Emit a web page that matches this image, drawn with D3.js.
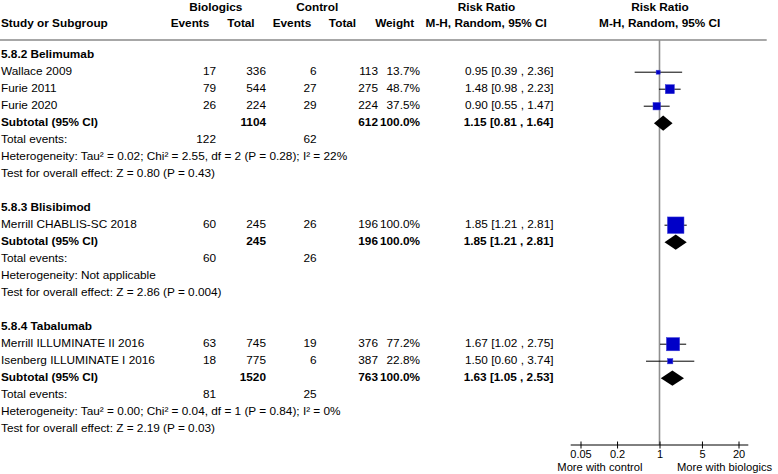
<!DOCTYPE html>
<html>
<head>
<meta charset="utf-8">
<script src="https://d3js.org/d3.v7.min.js"></script>
<style>
  body { margin: 0; background: #fff; }
  text { font-family: "Liberation Sans", Arial, Helvetica, sans-serif; font-size: 11.8px; fill: #000; }
</style>
</head>
<body>
<svg id="chart" width="778" height="474"></svg>
<script>
// ---- data ----
var groupNames = ["5.8.2 Belimumab", "5.8.3 Blisibimod", "5.8.4 Tabalumab"];
var studyNames = ["Wallace 2009", "Furie 2011", "Furie 2020", "Merrill CHABLIS-SC 2018",
  "Merrill ILLUMINATE II 2016", "Isenberg ILLUMINATE I 2016"];
var studyGroup = [0, 0, 0, 1, 2, 2];
var bioEvents = [17, 79, 26, 60, 63, 18];
var bioTotal = [336, 544, 224, 245, 745, 775];
var ctrlEvents = [6, 27, 29, 26, 19, 6];
var ctrlTotal = [113, 275, 224, 196, 376, 387];
var studyWeight = [13.7, 48.7, 37.5, 100.0, 77.2, 22.8];
var studyRR = [0.95, 1.48, 0.90, 1.85, 1.67, 1.50];
var studyLow = [0.39, 0.98, 0.55, 1.21, 1.02, 0.60];
var studyHigh = [2.36, 2.23, 1.47, 2.81, 2.75, 3.74];

var subBioTotal = [1104, 245, 1520];
var subCtrlTotal = [612, 196, 763];
var subRR = [1.15, 1.85, 1.63];
var subLow = [0.81, 1.21, 1.05];
var subHigh = [1.64, 2.81, 2.53];
var totBioEvents = [122, 60, 81];
var totCtrlEvents = [62, 26, 25];
var heterogeneity = [
  "Tau² = 0.02; Chi² = 2.55, df = 2 (P = 0.28); I² = 22%",
  "Not applicable",
  "Tau² = 0.00; Chi² = 0.04, df = 1 (P = 0.84); I² = 0%",
];
var overallEffect = ["Z = 0.80 (P = 0.43)", "Z = 2.86 (P = 0.004)", "Z = 2.19 (P = 0.03)"];
var axisTicks = [0.05, 0.2, 1, 5, 20];

// ---- layout ----
var svg = d3.select("#chart");
var col = { name: 1, bioEv: 216, bioTot: 266, ctrlEv: 316.5, ctrlTot: 378, weight: 420, rr: 553.5 };
var axisY = 445;
var f2 = d3.format(".2f");
var f1 = d3.format(".1f");

// build the list of table rows (one per line of text)
var rows = [];
groupNames.forEach((g, gi) => {
  if (gi > 0) rows.push({ type: "blank" });
  rows.push({ type: "group", g: gi });
  studyGroup.forEach((sg, i) => {
    if (sg == gi) rows.push({ type: "study", i: i });
  });
  rows.push({ type: "subtotal", g: gi });
  rows.push({ type: "events", g: gi });
  rows.push({ type: "het", g: gi });
  rows.push({ type: "test", g: gi });
});

var y = d3.scaleLinear().domain([0, 1]).range([55.2, 72.2]); // 17px per row
var x = d3.scaleLog().domain([0.05, 20]).range([580.5, 738.5]);
var boxSize = d3.scaleLinear().domain([0, 100]).range([2, 16.5]);

function addText(g, px, py, txt, anchor, bold) {
  return g.append("text")
    .attr("x", px)
    .attr("y", py)
    .attr("text-anchor", anchor || "start")
    .style("font-weight", bold ? "bold" : "normal")
    .text(txt);
}

// ---- header ----
var head = svg.append("g").attr("class", "header");
addText(head, 215.8, 10.5, "Biologics", "middle", true);
addText(head, 317.2, 10.5, "Control", "middle", true);
addText(head, 486.5, 10.5, "Risk Ratio", "middle", true);
addText(head, 660, 10.5, "Risk Ratio", "middle", true);
addText(head, col.name, 26.5, "Study or Subgroup", "start", true);
addText(head, 190, 26.5, "Events", "middle", true);
addText(head, 241, 26.5, "Total", "middle", true);
addText(head, 292, 26.5, "Events", "middle", true);
addText(head, 342.5, 26.5, "Total", "middle", true);
addText(head, 394.7, 26.5, "Weight", "middle", true);
addText(head, 486.2, 26.5, "M-H, Random, 95% CI", "middle", true);
addText(head, 659.7, 26.5, "M-H, Random, 95% CI", "middle", true);

head.append("line")
  .attr("x1", 0).attr("x2", 766.7)
  .attr("y1", 40).attr("y2", 40)
  .style("stroke", "#8a8a8a")
  .style("stroke-width", "1.6px");

// line of no effect
svg.append("line")
  .attr("x1", x(1)).attr("x2", x(1))
  .attr("y1", 40).attr("y2", axisY)
  .style("stroke", "#8f8f8f")
  .style("stroke-width", "1.6px");

// ---- table text ----
var table = svg.append("g").attr("class", "table");
rows.forEach((r, ri) => {
  var ty = y(ri) + 2.5;
  if (r.type == "group") {
    addText(table, col.name, ty, groupNames[r.g], "start", true);
  } else if (r.type == "study") {
    var i = r.i;
    addText(table, col.name, ty, studyNames[i]);
    addText(table, col.bioEv, ty, bioEvents[i], "end");
    addText(table, col.bioTot, ty, bioTotal[i], "end");
    addText(table, col.ctrlEv, ty, ctrlEvents[i], "end");
    addText(table, col.ctrlTot, ty, ctrlTotal[i], "end");
    addText(table, col.weight, ty, f1(studyWeight[i]) + "%", "end");
    addText(table, col.rr, ty, f2(studyRR[i]) + " [" + f2(studyLow[i]) + " , " + f2(studyHigh[i]) + "]", "end");
  } else if (r.type == "subtotal") {
    var g = r.g;
    addText(table, col.name, ty, "Subtotal (95% CI)", "start", true);
    addText(table, col.bioTot, ty, subBioTotal[g], "end", true);
    addText(table, col.ctrlTot, ty, subCtrlTotal[g], "end", true);
    addText(table, col.weight, ty, "100.0%", "end", true);
    addText(table, col.rr, ty, f2(subRR[g]) + " [" + f2(subLow[g]) + " , " + f2(subHigh[g]) + "]", "end", true);
  } else if (r.type == "events") {
    addText(table, col.name, ty, "Total events:");
    addText(table, col.bioEv, ty, totBioEvents[r.g], "end");
    addText(table, col.ctrlEv, ty, totCtrlEvents[r.g], "end");
  } else if (r.type == "het") {
    addText(table, col.name, ty, "Heterogeneity: " + heterogeneity[r.g]);
  } else if (r.type == "test") {
    addText(table, col.name, ty, "Test for overall effect: " + overallEffect[r.g]);
  }
});

// ---- forest marks ----
var plot = svg.append("g").attr("class", "forest");
rows.forEach((r, ri) => {
  var cy = y(ri);
  if (r.type == "study") {
    var i = r.i;
    plot.append("line")
      .attr("x1", x(studyLow[i])).attr("x2", x(studyHigh[i]))
      .attr("y1", cy).attr("y2", cy)
      .style("stroke", "#000")
      .style("stroke-width", "1px");
    var s = boxSize(studyWeight[i]);
    plot.append("rect")
      .attr("x", x(studyRR[i]) - s / 2)
      .attr("y", cy - s / 2)
      .attr("width", s)
      .attr("height", s)
      .style("fill", "#0000c8")
      .style("stroke", "#3a3ad8")
      .style("stroke-width", "0.5px");
  } else if (r.type == "subtotal") {
    var g = r.g;
    var pts = [
      [x(subLow[g]), cy],
      [x(subRR[g]), cy - 7.6],
      [x(subHigh[g]), cy],
      [x(subRR[g]), cy + 7.6],
    ];
    plot.append("path")
      .attr("d", d3.line()(pts) + "Z")
      .style("fill", "#000");
  }
});

// ---- axis ----
var axisG = svg.append("g")
  .attr("class", "axis")
  .attr("transform", "translate(0," + axisY + ")")
  .call(d3.axisBottom(x).tickValues(axisTicks).tickFormat((d) => String(d)).tickSize(4));
axisG.select(".domain").remove();
axisG.selectAll(".tick line").attr("y1", -3.5).attr("y2", 3.5).style("stroke", "#000");
axisG.selectAll(".tick text")
  .attr("y", 12.6)
  .attr("dy", null)
  .style("font-size", "11px")
  .style("font-family", "'Liberation Sans', Arial, Helvetica, sans-serif");
axisG.append("line")
  .attr("x1", 570.7).attr("x2", 748.3)
  .attr("y1", 0).attr("y2", 0)
  .style("stroke", "#000")
  .style("stroke-width", "1px");

addText(svg, x(1) - 17, 470.5, "More with control", "end").style("font-size", "11.2px");
addText(svg, x(1) + 17.5, 470.5, "More with biologics", "start").style("font-size", "11.2px");
</script>
</body>
</html>
